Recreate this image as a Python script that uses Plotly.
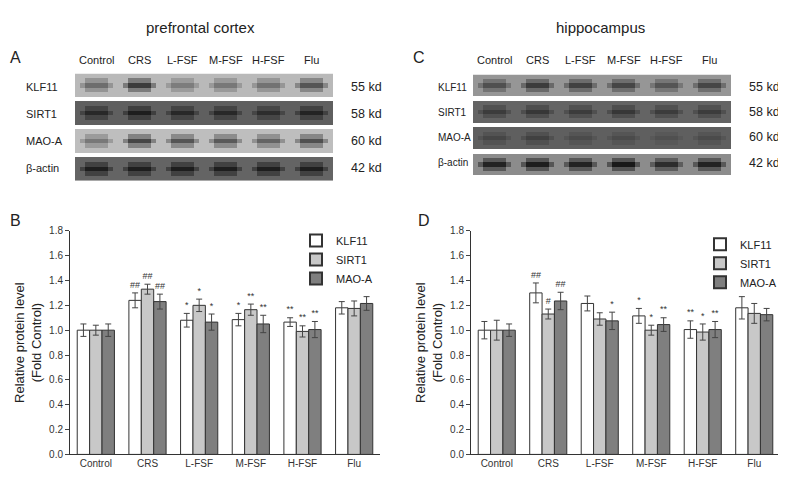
import plotly.graph_objects as go

groups = ["Control", "CRS", "L-FSF", "M-FSF", "H-FSF", "Flu"]
proteins = ["KLF11", "SIRT1", "MAO-A"]
blot_rows = ["KLF11", "SIRT1", "MAO-A", "β-actin"]
blot_kd = ["55 kd", "58 kd", "60 kd", "42 kd"]

# panel B (prefrontal cortex)
b_klf11 = [1.00, 1.24, 1.08, 1.085, 1.065, 1.18]
b_klf11_err = [0.05, 0.06, 0.055, 0.05, 0.035, 0.05]
b_sirt1 = [1.00, 1.33, 1.20, 1.165, 0.99, 1.175]
b_sirt1_err = [0.04, 0.04, 0.05, 0.045, 0.045, 0.06]
b_maoa = [1.00, 1.23, 1.065, 1.05, 1.005, 1.215]
b_maoa_err = [0.05, 0.06, 0.065, 0.07, 0.065, 0.055]
b_marks = [["", "##", "*", "*", "**", ""],
           ["", "##", "*", "**", "**", ""],
           ["", "##", "*", "**", "**", ""]]

# panel D (hippocampus)
d_klf11 = [1.00, 1.30, 1.215, 1.115, 1.005, 1.18]
d_klf11_err = [0.07, 0.08, 0.06, 0.06, 0.07, 0.09]
d_sirt1 = [1.00, 1.13, 1.09, 1.00, 0.985, 1.135]
d_sirt1_err = [0.08, 0.04, 0.05, 0.04, 0.065, 0.08]
d_maoa = [1.00, 1.235, 1.075, 1.045, 1.005, 1.125]
d_maoa_err = [0.05, 0.07, 0.07, 0.055, 0.065, 0.05]
d_marks = [["", "##", "", "*", "**", ""],
           ["", "#", "", "*", "*", ""],
           ["", "##", "*", "**", "**", ""]]

# blot grey levels (0 black - 255 white): background per row, band per lane
a_bg = [185, 95, 190, 100]
a_bands = [[110, 60, 125, 120, 115, 85],
           [40, 30, 40, 40, 45, 35],
           [120, 70, 85, 90, 100, 80],
           [30, 30, 30, 30, 30, 30]]
c_bg = [150, 100, 95, 140]
c_bands = [[80, 60, 65, 70, 85, 70],
           [60, 55, 60, 55, 60, 60],
           [70, 65, 75, 75, 80, 75],
           [35, 30, 35, 25, 45, 35]]

bar_colors = ["white", "#c8c8c8", "#7f7f7f"]
FONT = "Liberation Sans, Arial, sans-serif"

# figure kept a little smaller than the window so the page never scrolls
W, H, OFF = 778, 470, 8


def px(x):
    return (x - OFF) / W


def py(y):
    return 1 - y / H


def blot_grid(bg, bands):
    z = []
    for r, row in enumerate(bands):
        b = bg[r]
        for level in ["bg", "mix", "band", "mix", "bg"]:
            line = []
            for v in row:
                m = (b + v) / 2
                if level == "bg":
                    line += [b] * 9
                elif level == "mix":
                    line += [b, b, m, m, m, m, m, b, b]
                else:
                    line += [b, m, v, v, v, v, v, m, b]
            z.append(line)
        if r < len(bands) - 1:
            z.append([None] * len(line))
    return z[::-1]


fig = go.Figure()

# blots
for bg, bands, xa, ya in [(a_bg, a_bands, "x3", "y3"), (c_bg, c_bands, "x4", "y4")]:
    fig.add_trace(go.Heatmap(z=blot_grid(bg, bands), colorscale=[[0, "black"], [1, "white"]],
                             zmin=0, zmax=255, showscale=False, hoverinfo="skip",
                             xaxis=xa, yaxis=ya))

w = 0.24
panels = [
    ("x", "y", [b_klf11, b_sirt1, b_maoa], [b_klf11_err, b_sirt1_err, b_maoa_err], b_marks, True),
    ("x2", "y2", [d_klf11, d_sirt1, d_maoa], [d_klf11_err, d_sirt1_err, d_maoa_err], d_marks, False),
]
for xa, ya, vals, errs, marks, leg in panels:
    for k in range(3):
        xs = [i + (k - 1) * w for i in range(len(groups))]
        fig.add_trace(go.Bar(
            x=xs, y=vals[k], width=w, name=proteins[k], showlegend=True,
            legend="legend" if leg else "legend2",
            marker=dict(color=bar_colors[k], line=dict(color="#333", width=1)),
            error_y=dict(type="data", array=errs[k], color="#444", thickness=1, width=3),
            xaxis=xa, yaxis=ya))
        fig.add_trace(go.Scatter(
            x=xs, y=[v + e + 0.025 for v, e in zip(vals[k], errs[k])], text=marks[k],
            mode="text", textposition="top center", showlegend=False, hoverinfo="skip",
            textfont=dict(size=9, color="#333"), xaxis=xa, yaxis=ya))

ax_common = dict(showline=True, linecolor="#333", linewidth=1, showgrid=False, zeroline=False,
                 tickfont=dict(size=10, color="#333", family=FONT))
yax = dict(ax_common, range=[0, 1.8], dtick=0.2, tickformat=".1f", ticks="outside", ticklen=4,
           title=dict(text="Relative protein level<br>(Fold Control)", font=dict(size=13, color="#222"),
                      standoff=4))
xax = dict(ax_common, range=[-0.5, 5.5], tickvals=list(range(6)), ticktext=groups, ticks="")
blank = dict(visible=False, showgrid=False, zeroline=False)

leg_style = dict(font=dict(size=11, color="#222", family=FONT), bgcolor="rgba(0,0,0,0)",
                 tracegroupgap=0, itemsizing="constant", itemwidth=30)

fig.update_layout(
    width=W, height=H, margin=dict(l=0, r=0, t=0, b=0),
    paper_bgcolor="white", plot_bgcolor="white", barmode="overlay",
    font=dict(family=FONT, color="#222"),
    xaxis=dict(xax, domain=[px(70), px(380)], anchor="y"),
    yaxis=dict(yax, domain=[py(452), py(223)], anchor="x"),
    xaxis2=dict(xax, domain=[px(471), px(780)], anchor="y2"),
    yaxis2=dict(yax, domain=[py(452), py(223)], anchor="x2"),
    xaxis3=dict(blank, domain=[px(75), px(333)], anchor="y3"),
    yaxis3=dict(blank, domain=[py(172), py(62)], anchor="x3"),
    xaxis4=dict(blank, domain=[px(473), px(731)], anchor="y4"),
    yaxis4=dict(blank, domain=[py(166), py(63)], anchor="x4"),
    legend=dict(leg_style, x=px(378), y=py(218), xanchor="right", yanchor="top"),
    legend2=dict(leg_style, x=px(782), y=py(222), xanchor="right", yanchor="top"),
)

# blot labels
ann = []
for title, cx, letter, lx, x0, x1, ytop, ybot, lblx, kdx, lfs in [
        ("prefrontal cortex", 200, "A", 8, 75, 333, 62, 172, 24, 384, 11),
        ("hippocampus", 600, "C", 411, 473, 731, 63, 166, 436, 782, 10)]:
    ann.append(dict(text=title, x=px(cx), y=py(15), font=dict(size=15)))
    ann.append(dict(text=letter, x=px(lx), y=py(46), font=dict(size=16), xanchor="left"))
    lane = (x1 - x0) / 6
    for i, g in enumerate(groups):
        ann.append(dict(text=g, x=px(x0 + lane * (i + 0.5)), y=py(48), font=dict(size=11)))
    rowh = (ybot - ytop) / 4
    for j, (r, kd) in enumerate(zip(blot_rows, blot_kd)):
        yy = py(ytop + rowh * (j + 0.5))
        ann.append(dict(text=r, x=px(lblx), y=yy, font=dict(size=lfs), xanchor="left"))
        ann.append(dict(text=kd, x=px(kdx), y=yy, font=dict(size=12.5), xanchor="right"))
ann.append(dict(text="B", x=px(8), y=py(212), font=dict(size=16), xanchor="left"))
ann.append(dict(text="D", x=px(416), y=py(212), font=dict(size=16), xanchor="left"))
for a in ann:
    a.setdefault("xanchor", "center")
    a.update(xref="paper", yref="paper", showarrow=False, yanchor="middle")
fig.update_layout(annotations=ann)

fig.write_html("out.html")
